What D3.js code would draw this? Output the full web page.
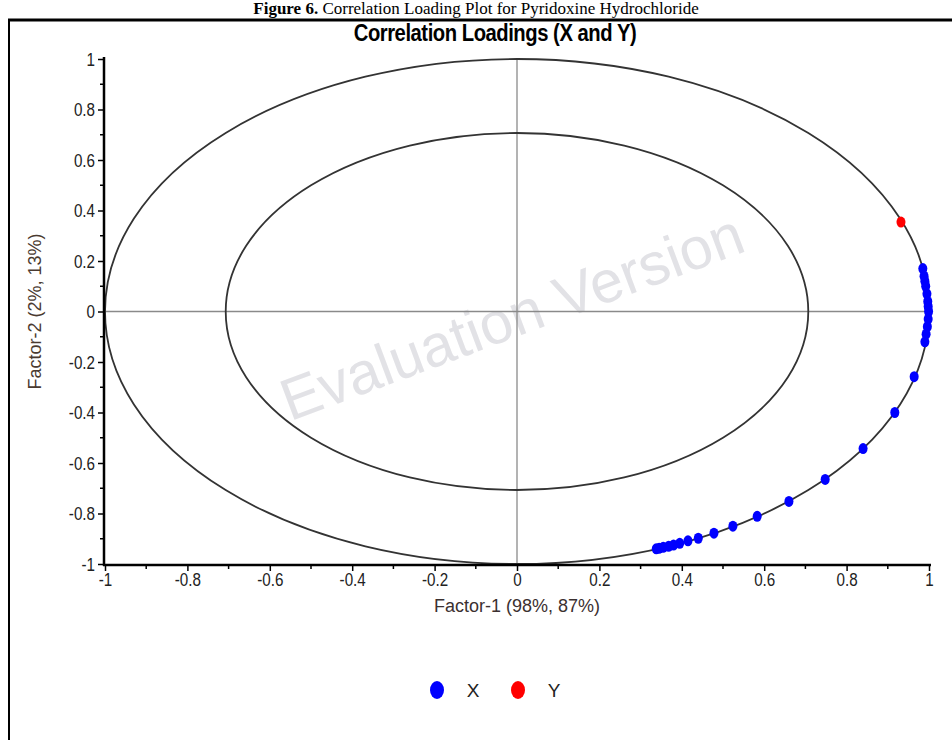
<!DOCTYPE html>
<html><head><meta charset="utf-8">
<script src="https://cdn.jsdelivr.net/npm/d3@7"></script>
<style>
body{margin:0;background:#fff;}
svg{display:block;}
</style></head>
<body>
<svg id="c" width="952" height="740"></svg>
<script>
const captionBold = "Figure 6.";
const captionRest = " Correlation Loading Plot for Pyridoxine Hydrochloride";
const chartTitle = "Correlation Loadings (X and Y)";
const xTitle = "Factor-1 (98%, 87%)";
const yTitle = "Factor-2 (2%, 13%)";
const watermark = "Evaluation Version";
const tickValues = [-1, -0.8, -0.6, -0.4, -0.2, 0, 0.2, 0.4, 0.6, 0.8, 1];
const minorTicks = [-0.9, -0.7, -0.5, -0.3, -0.1, 0.1, 0.3, 0.5, 0.7, 0.9];
const ellipseRadii = [1, 0.707];
const seriesNames = ["X", "Y"];
const seriesColors = ["#0000ff", "#ff0000"];
const xLoadX = [0.985, 0.988, 0.990, 0.992, 0.995, 0.997, 0.998, 0.999, 0.998, 0.996, 0.993, 0.990,
  0.964, 0.917, 0.840, 0.748, 0.660, 0.583, 0.524, 0.478, 0.440, 0.415, 0.395, 0.380, 0.368, 0.355, 0.345, 0.338];
const xLoadY = [0.170, 0.140, 0.120, 0.100, 0.070, 0.040, 0.020, 0.000, -0.030, -0.060, -0.090, -0.120,
  -0.258, -0.400, -0.543, -0.665, -0.752, -0.811, -0.850, -0.878, -0.898, -0.908, -0.918, -0.925, -0.930, -0.934, -0.938, -0.940];
const yLoadX = [0.932];
const yLoadY = [0.354];

const svg = d3.select("#c");
const x = d3.scaleLinear().domain([-1, 1]).range([105, 929]);
const y = d3.scaleLinear().domain([-1, 1]).range([564, 59]);

// frame
svg.append("line").attr("x1", 8).attr("x2", 952).attr("y1", 20).attr("y2", 20).attr("stroke", "#000").attr("stroke-width", 3);
svg.append("line").attr("x1", 9).attr("x2", 9).attr("y1", 19).attr("y2", 740).attr("stroke", "#000").attr("stroke-width", 2);

// caption
const cap = svg.append("text").attr("x", 476).attr("y", 14).attr("text-anchor", "middle")
  .attr("font-family", "Liberation Serif, Times New Roman, serif").attr("font-size", 17).attr("fill", "#000");
cap.append("tspan").attr("font-weight", "bold").text(captionBold);
cap.append("tspan").text(captionRest);

// title
svg.append("text").attr("transform", "translate(495,41) scale(0.92,1.05)").attr("text-anchor", "middle")
  .attr("font-family", "Liberation Sans, Arial, sans-serif").attr("font-weight", "bold")
  .attr("font-size", 22).attr("letter-spacing", -0.5).attr("fill", "#000").text(chartTitle);

// watermark
svg.append("text").attr("transform", `translate(519,336) rotate(-20.5)`).attr("text-anchor", "middle")
  .attr("font-family", "Liberation Sans, Arial, sans-serif").attr("font-size", 59).attr("fill", "#e2e2e6")
  .text(watermark);

// crosshair
svg.append("line").attr("x1", x(-1)).attr("x2", x(1)).attr("y1", y(0)).attr("y2", y(0)).attr("stroke", "#8a8a8a").attr("stroke-width", 1.6);
svg.append("line").attr("x1", x(0)).attr("x2", x(0)).attr("y1", y(1)).attr("y2", y(-1)).attr("stroke", "#8a8a8a").attr("stroke-width", 1.3);

// ellipses
svg.selectAll("ellipse.ring").data(ellipseRadii).join("ellipse").attr("class", "ring")
  .attr("cx", x(0)).attr("cy", y(0))
  .attr("rx", d => x(d) - x(0)).attr("ry", d => y(0) - y(d))
  .attr("fill", "none").attr("stroke", "#333").attr("stroke-width", 1.8);

// axes
const tickFont = "Liberation Sans, Arial, sans-serif";
const fmt = d => String(Math.round(d * 10) / 10);
const gx = svg.append("g").attr("transform", `translate(0,${y(-1) + 1})`)
  .call(d3.axisBottom(x).tickValues(tickValues).tickFormat(fmt).tickSize(6).tickSizeOuter(0));
gx.select(".domain").attr("stroke", "#000").attr("stroke-width", 2.5).attr("d", `M${x(-1) - 2},0H${x(1) + 2}`);
gx.selectAll(".tick line").attr("stroke", "#000").attr("stroke-width", 1.5);
gx.selectAll(".tick text").attr("font-family", tickFont).attr("font-size", 19).attr("fill", "#222")
  .attr("y", 0).attr("dy", 0).attr("transform", "translate(0,21) scale(0.8,1)");
gx.append("g").selectAll("line").data(minorTicks).join("line")
  .attr("x1", d => x(d)).attr("x2", d => x(d)).attr("y1", 0).attr("y2", 4).attr("stroke", "#000").attr("stroke-width", 1.5);

const gy = svg.append("g").attr("transform", `translate(${x(-1) - 1},0)`)
  .call(d3.axisLeft(y).tickValues(tickValues).tickFormat(fmt).tickSize(6).tickSizeOuter(0));
gy.select(".domain").attr("stroke", "#000").attr("stroke-width", 2.5).attr("d", `M0,${y(1) - 2}V${y(-1) + 2}`);
gy.selectAll(".tick line").attr("stroke", "#000").attr("stroke-width", 1.5);
gy.selectAll(".tick text").attr("font-family", tickFont).attr("font-size", 19).attr("fill", "#222")
  .attr("x", 0).attr("transform", "translate(-9,0) scale(0.8,1)");
gy.append("g").selectAll("line").data(minorTicks).join("line")
  .attr("y1", d => y(d)).attr("y2", d => y(d)).attr("x1", 0).attr("x2", -4).attr("stroke", "#000").attr("stroke-width", 1.5);

// axis titles
svg.append("text").attr("x", x(0)).attr("y", 612).attr("text-anchor", "middle")
  .attr("font-family", "Liberation Sans, Arial, sans-serif").attr("font-size", 18).attr("fill", "#3b3030").text(xTitle);
svg.append("text").attr("transform", `translate(41,${y(0)}) rotate(-90)`).attr("text-anchor", "middle")
  .attr("font-family", "Liberation Sans, Arial, sans-serif").attr("font-size", 18).attr("fill", "#4a3a30").text(yTitle);

// points
const ptsX = xLoadX.map((v, i) => ({x: v, y: xLoadY[i]}));
const ptsY = yLoadX.map((v, i) => ({x: v, y: yLoadY[i]}));
svg.append("g").selectAll("ellipse").data(ptsX).join("ellipse")
  .attr("cx", d => x(d.x)).attr("cy", d => y(d.y)).attr("rx", 4.5).attr("ry", 5.5).attr("fill", seriesColors[0]);
svg.append("g").selectAll("ellipse").data(ptsY).join("ellipse")
  .attr("cx", d => x(d.x)).attr("cy", d => y(d.y)).attr("rx", 4.5).attr("ry", 5.5).attr("fill", seriesColors[1]);

// legend
const legX = [437, 518];
const lg = svg.append("g").selectAll("g").data(seriesNames).join("g")
  .attr("transform", (d, i) => `translate(${legX[i]},690)`);
lg.append("ellipse").attr("rx", 7).attr("ry", 9).attr("fill", (d, i) => seriesColors[i]);
lg.append("text").attr("x", 36).attr("y", 7).attr("text-anchor", "middle")
  .attr("font-family", "Liberation Sans, Arial, sans-serif").attr("font-size", 19).attr("fill", "#222").text(d => d);
</script>
</body></html>
